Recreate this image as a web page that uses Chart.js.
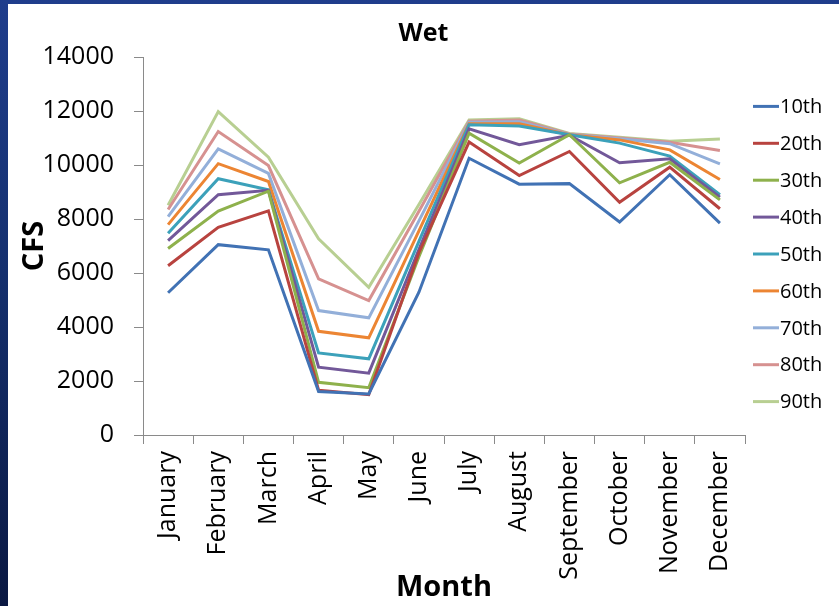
<!DOCTYPE html>
<html>
<head>
<meta charset="utf-8">
<script src="https://cdn.jsdelivr.net/npm/chart.js@4.4.1/dist/chart.umd.min.js"></script>
<style>
  html, body { margin: 0; padding: 0; width: 839px; height: 606px; overflow: hidden; }
  body { position: relative; background: linear-gradient(180deg, #1f3d8c 0%, #15306e 45%, #0a1842 100%); }
  #frame { position: absolute; left: 8px; top: 4px; width: 831px; height: 602px; background: #ffffff; }
  canvas { display: block; }
</style>
</head>
<body>
<div id="frame"><canvas id="flowChart" width="831" height="602"></canvas></div>
<script>
// Monthly flow percentiles (CFS) for wet years
const months = ['January', 'February', 'March', 'April', 'May', 'June',
                'July', 'August', 'September', 'October', 'November', 'December'];
const percentileNames = ['10th', '20th', '30th', '40th', '50th', '60th', '70th', '80th', '90th'];

const p10 = [5270, 7050, 6860, 1610, 1520, 5290, 10250, 9290, 9310, 7890, 9640, 7850];
const p20 = [6270, 7690, 8300, 1660, 1490, 6750, 10850, 9610, 10500, 8620, 9920, 8380];
const p30 = [6910, 8290, 9030, 1950, 1750, 6600, 11180, 10070, 11120, 9340, 10100, 8710];
const p40 = [7200, 8900, 9060, 2510, 2290, 6870, 11340, 10750, 11100, 10080, 10230, 8810];
const p50 = [7470, 9490, 9080, 3040, 2820, 7170, 11490, 11440, 11120, 10810, 10330, 8900];
const p60 = [7790, 10050, 9390, 3840, 3600, 7560, 11530, 11530, 11120, 10930, 10560, 9460];
const p70 = [8090, 10600, 9690, 4610, 4340, 7930, 11580, 11600, 11130, 10970, 10790, 10040];
const p80 = [8350, 11240, 9980, 5780, 4980, 8290, 11620, 11670, 11150, 11000, 10840, 10540];
const p90 = [8510, 11980, 10290, 7270, 5470, 8540, 11670, 11710, 11170, 11030, 10880, 10960];

const yMin = 0;
const yMax = 14000;
const yStep = 2000;

const seriesValues = [p10, p20, p30, p40, p50, p60, p70, p80, p90];
const seriesColors = ['#4172b4', '#b8433f', '#8eb14c', '#725899', '#3ca1ba',
                      '#ec8533', '#93afd9', '#d69190', '#b8cf92'];

const axisGrey = '#8a8a8a';
const tickFont = { family: '"Open Sans", sans-serif', size: 25 };
const titleFont = { family: '"Open Sans", sans-serif', size: 29, weight: 'bold' };

// Right-hand legend: short coloured line followed by the series name
const sideLegend = {
  id: 'sideLegend',
  afterDraw(chart) {
    const { ctx, chartArea } = chart;
    const sets = chart.data.datasets;
    const rowGap = 36.9;
    const centerY = (chartArea.top + chartArea.bottom) / 2 + 8;
    const firstY = centerY - rowGap * (sets.length - 1) / 2;
    const x0 = chartArea.right + 8;
    ctx.save();
    ctx.font = '20px "Open Sans", sans-serif';
    ctx.textBaseline = 'middle';
    ctx.textAlign = 'left';
    sets.forEach((ds, i) => {
      const y = firstY + i * rowGap;
      ctx.strokeStyle = ds.borderColor;
      ctx.lineWidth = 3;
      ctx.beginPath();
      ctx.moveTo(x0, y);
      ctx.lineTo(x0 + 26, y);
      ctx.stroke();
      ctx.fillStyle = '#000000';
      ctx.fillText(ds.label, x0 + 27, y + 1);
    });
    ctx.restore();
  }
};

const datasets = percentileNames.map((name, i) => ({
  label: name,
  data: seriesValues[i],
  borderColor: seriesColors[i],
  backgroundColor: seriesColors[i],
  borderWidth: 3,
  pointRadius: 0,
  tension: 0,
  fill: false,
  yAxisID: 'y'
}));

new Chart(document.getElementById('flowChart'), {
  type: 'line',
  data: { labels: months, datasets: datasets },
  options: {
    responsive: false,
    animation: false,
    layout: { padding: 0 },
    plugins: {
      legend: { display: false },
      tooltip: { enabled: false },
      title: {
        display: true,
        text: 'Wet',
        color: '#000000',
        font: { family: '"Open Sans", sans-serif', size: 25, weight: 'bold', lineHeight: 1.2 },
        padding: { top: 15, bottom: 8 }
      }
    },
    scales: {
      x: {
        offset: true,
        grid: { display: true, offset: true, drawOnChartArea: false, drawTicks: true,
                tickLength: 9, color: axisGrey, lineWidth: 1 },
        border: { display: true, color: axisGrey, width: 1 },
        ticks: { color: '#000000', font: tickFont, minRotation: 90, maxRotation: 90,
                 autoSkip: false, padding: 7 },
        title: { display: true, text: 'Month', color: '#000000', font: titleFont,
                 padding: { top: 0, bottom: 1 } },
        afterFit(scale) { scale.height = 171; }
      },
      y: {
        min: yMin,
        max: yMax,
        ticks: { stepSize: yStep, color: '#000000', font: tickFont, padding: 20,
                 callback: (value) => String(value) },
        grid: { display: true, drawOnChartArea: false, drawTicks: true, tickLength: 9,
                color: axisGrey, lineWidth: 1 },
        border: { display: true, color: axisGrey, width: 1 },
        title: { display: true, text: 'CFS', color: '#000000', font: titleFont,
                 padding: { top: 9, bottom: 0 } },
        afterFit(scale) { scale.width = 135; }
      },
      // empty right-hand box that keeps room for the legend
      legendSpace: {
        type: 'linear',
        position: 'right',
        display: true,
        grid: { display: false, drawTicks: false },
        border: { display: false },
        ticks: { display: false },
        afterFit(scale) { scale.width = 94; }
      }
    }
  },
  plugins: [sideLegend]
});
</script>
</body>
</html>
